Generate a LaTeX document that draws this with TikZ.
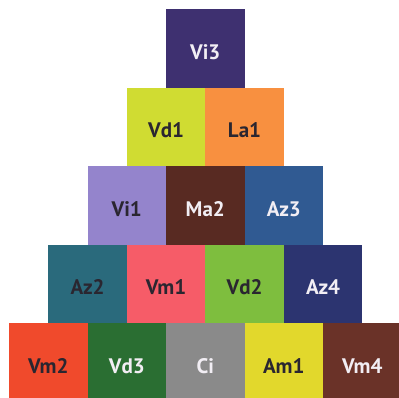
\documentclass[tikz,border=0pt]{standalone}
\usepackage{fontspec}
\setmainfont{PT Sans}
\definecolor{cVithree}{HTML}{3E3070}
\definecolor{cVdone}{HTML}{D0DC32}
\definecolor{cLaone}{HTML}{F89040}
\definecolor{cVione}{HTML}{9484CC}
\definecolor{cMatwo}{HTML}{582A22}
\definecolor{cAzthree}{HTML}{305A92}
\definecolor{cAztwo}{HTML}{2A6A7C}
\definecolor{cVmone}{HTML}{F65C68}
\definecolor{cVdtwo}{HTML}{7EBE3E}
\definecolor{cAzfour}{HTML}{2C3470}
\definecolor{cVmtwo}{HTML}{F04A2C}
\definecolor{cVdthree}{HTML}{2A6E32}
\definecolor{cCi}{HTML}{8A8A8A}
\definecolor{cAmone}{HTML}{E2D82C}
\definecolor{cVmfour}{HTML}{6A3228}
\definecolor{darktxt}{HTML}{2A2630}
\definecolor{lighttxt}{HTML}{F2EEF4}
\tikzset{
  tile/.style={anchor=north west, minimum width=78.6pt, minimum height=78.6pt,
    inner sep=0pt, outer sep=0pt, text height=21pt, text depth=0pt,
    font=\fontsize{21}{24}\selectfont\bfseries},
  dk/.style={tile, text=darktxt},
  lt/.style={tile, text=lighttxt}
}
\begin{document}
\begin{tikzpicture}[x=1pt,y=1pt]
\useasboundingbox[fill=white] (0,0) rectangle (399,398);
% row 0
\node[lt, fill=cVithree] (vi3) at (166,388.5) {Vi3};
% row 1
\node[dk, fill=cVdone] (vd1) at (126.75,310) {Vd1};
\node[dk, fill=cLaone] (la1) at (205.25,310) {La1};
% row 2
\node[dk, fill=cVione] (vi1) at (87.5,231.5) {Vi1};
\node[lt, fill=cMatwo] (ma2) at (166,231.5) {Ma2};
\node[lt, fill=cAzthree] (az3) at (244.5,231.5) {Az3};
% row 3
\node[dk, fill=cAztwo] (az2) at (48.25,153) {Az2};
\node[dk, fill=cVmone] (vm1) at (126.75,153) {Vm1};
\node[dk, fill=cVdtwo] (vd2) at (205.25,153) {Vd2};
\node[lt, fill=cAzfour] (az4) at (283.75,153) {Az4};
% row 4
\node[dk, fill=cVmtwo] (vm2) at (9,74.5) {Vm2};
\node[lt, fill=cVdthree] (vd3) at (87.5,74.5) {Vd3};
\node[lt, fill=cCi] (ci) at (166,74.5) {Ci};
\node[dk, fill=cAmone] (am1) at (244.5,74.5) {Am1};
\node[lt, fill=cVmfour] (vm4) at (323,74.5) {Vm4};
\end{tikzpicture}
\end{document}
